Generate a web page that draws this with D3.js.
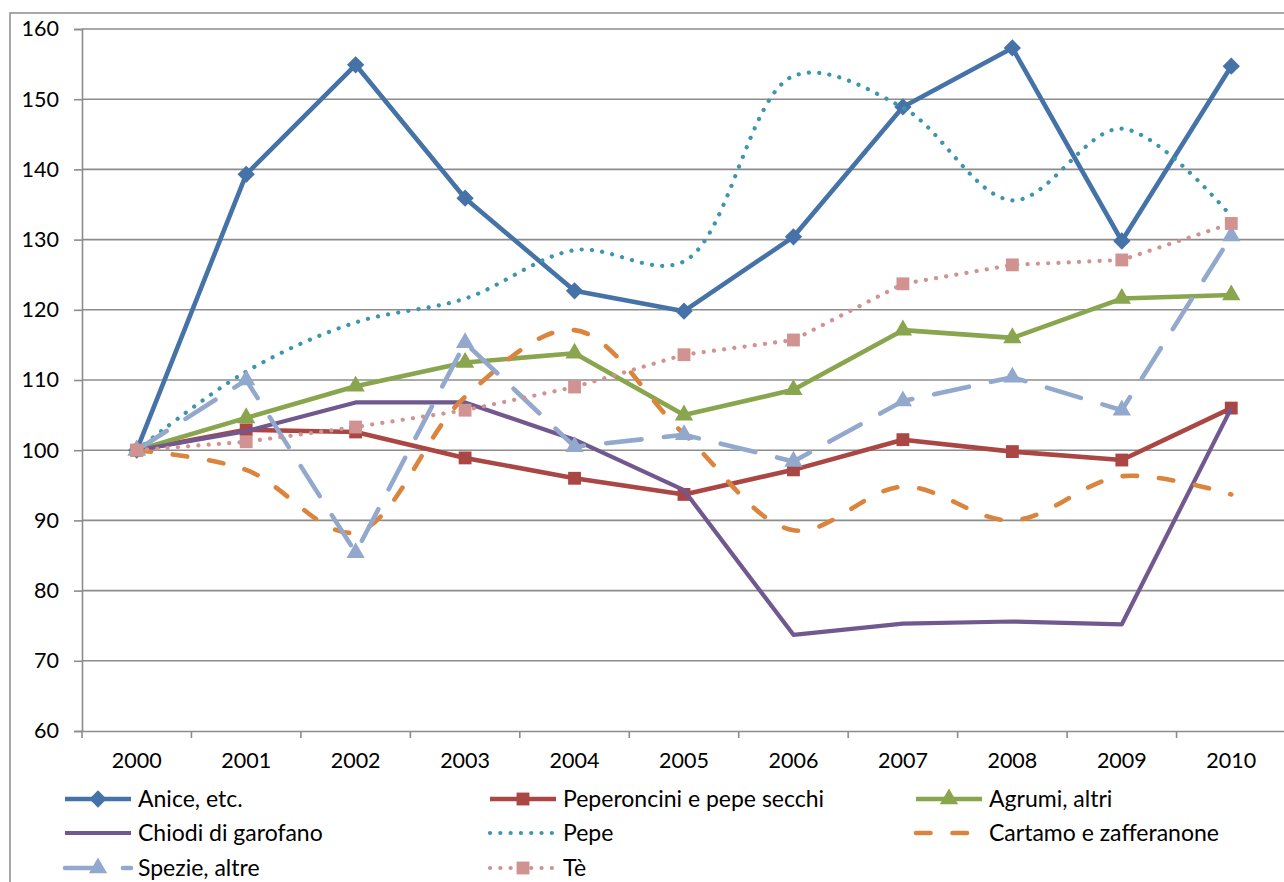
<!DOCTYPE html>
<html><head><meta charset="utf-8">
<script src="https://cdn.jsdelivr.net/npm/d3@7"></script>
<style>
html,body{margin:0;padding:0;background:#fff;overflow:hidden}
svg{display:block;font-family:Lato, "Open Sans", sans-serif}
</style></head>
<body>
<svg id="c" width="1284" height="882"></svg>
<script>
const years = ["2000","2001","2002","2003","2004","2005","2006","2007","2008","2009","2010"];
const yTicks = [60,70,80,90,100,110,120,130,140,150,160];

const anice       = [100,139.3,154.9,135.9,122.7,119.8,130.4,148.9,157.3,129.8,154.7];
const peperoncini = [100,102.9,102.6,98.9,96.0,93.7,97.2,101.5,99.8,98.6,106.0];
const agrumi      = [100,104.6,109.1,112.5,113.8,105.0,108.6,117.1,116.0,121.6,122.1];
const chiodi      = [100,102.7,106.8,106.8,101.5,94.3,73.7,75.3,75.6,75.2,106.0];
const pepe        = [100,111.2,118.2,121.6,128.5,126.9,153.3,148.8,135.6,145.8,133.3];
const cartamo     = [100,97.2,88.3,107.6,117.1,102.3,88.6,94.8,90.0,96.3,93.7];
const spezie      = [100,110.0,85.4,115.3,100.5,102.2,98.4,107.0,110.4,105.7,130.5];
const te          = [100,101.2,103.3,105.7,109.0,113.6,115.7,123.7,126.4,127.1,132.3];

const seriesNames = ["Anice, etc.","Peperoncini e pepe secchi","Agrumi, altri","Chiodi di garofano","Pepe","Cartamo e zafferanone","Spezie, altre","Tè"];
const seriesValues = [anice,peperoncini,agrumi,chiodi,pepe,cartamo,spezie,te];
const seriesColors = ["#4572A7","#AA4643","#89A54E","#71588F","#3D96AE","#DB843D","#92A8CD","#D09392"];

const styles = [
  {w:4.6, dash:null, marker:"diamond", smooth:false},
  {w:4.6, dash:null, marker:"square", smooth:false},
  {w:4.6, dash:null, marker:"triangle", smooth:false},
  {w:4.2, dash:null, marker:null, smooth:false},
  {w:4.2, dash:"0.1 10.2", marker:null, smooth:true},
  {w:4.6, dash:"14.5 22", marker:null, smooth:true},
  {w:4.6, dash:"35.5 22.5", marker:"triangle", smooth:false},
  {w:4.2, dash:"0.1 10.2", marker:"square", smooth:false}
];

const svg = d3.select("#c");
const L = 82, R = 1286, T = 29, B = 731;

const x = d3.scaleBand().domain(years).range([L, R]).padding(0);
const y = d3.scaleLinear().domain([60,160]).range([B, T]);
const cx = d => x(d) + x.bandwidth()/2;

// outer frame
svg.append("rect").attr("x",10).attr("y",13).attr("width",1320).attr("height",900)
  .attr("fill","none").attr("stroke","#8c8c8c").attr("stroke-width",1.5);

// gridlines
svg.append("g").selectAll("line").data(yTicks.filter(v=>v>60)).join("line")
  .attr("x1",L).attr("x2",R).attr("y1",d=>y(d)).attr("y2",d=>y(d))
  .attr("stroke","#8c8c8c").attr("stroke-width",1.6);

// y axis
const yAxis = svg.append("g").attr("transform",`translate(${L},0)`)
  .call(d3.axisLeft(y).tickValues(yTicks).tickSize(8).tickPadding(15));
yAxis.select(".domain").attr("stroke","#8c8c8c").attr("stroke-width",1.6);
yAxis.selectAll(".tick line").attr("stroke","#8c8c8c").attr("stroke-width",1.6);
yAxis.selectAll("text").attr("font-family","Lato").attr("font-size",21.5).attr("fill","#000");

// x axis
const xAxis = svg.append("g").attr("transform",`translate(0,${B})`)
  .call(d3.axisBottom(x).tickSize(0).tickPadding(22));
xAxis.select(".domain").attr("stroke","#8c8c8c").attr("stroke-width",1.6);
xAxis.selectAll("text").attr("font-family","Lato").attr("font-size",21.5).attr("fill","#000");
// category boundary ticks
svg.append("g").selectAll("line").data(years).join("line")
  .attr("x1",d=>x(d)).attr("x2",d=>x(d)).attr("y1",B).attr("y2",B+7)
  .attr("stroke","#8c8c8c").attr("stroke-width",1.6);

function markerPath(type){
  if(type==="diamond") return d3.symbol().type(d3.symbolSquare).size(150)();
  if(type==="square") return d3.symbol().type(d3.symbolSquare).size(165)();
  if(type==="triangle") return d3.symbol().type(d3.symbolTriangle).size(145)();
  return null;
}

const plot = svg.append("g");
seriesValues.forEach((vals,i)=>{
  const st = styles[i], col = seriesColors[i];
  const line = d3.line().x((d,j)=>cx(years[j])).y(d=>y(d))
    .curve(st.smooth ? d3.curveCatmullRom.alpha(0.5) : d3.curveLinear);
  const p = plot.append("path").datum(vals).attr("d",line)
    .attr("fill","none").attr("stroke",col).attr("stroke-width",st.w)
    .attr("stroke-linejoin","round").attr("stroke-linecap", st.dash ? "round" : "butt");
  if(st.dash) p.attr("stroke-dasharray",st.dash);
  if(st.marker){
    plot.append("g").selectAll("path").data(vals).join("path")
      .attr("d",markerPath(st.marker))
      .attr("transform",(d,j)=>`translate(${cx(years[j])},${y(d)})${st.marker==="diamond"?" rotate(45)":""}`)
      .attr("fill",col).attr("stroke","none");
  }
});

// legend
const colX = [65, 490, 916];
const rowY = [799, 833, 868];
const leg = svg.append("g");
seriesNames.forEach((name,i)=>{
  const c = i%3, r = Math.floor(i/3);
  const st = styles[i], col = seriesColors[i];
  const x0 = colX[c], y0 = rowY[r];
  const g = leg.append("g");
  const ln = g.append("line").attr("x1",x0).attr("x2",x0+66).attr("y1",y0).attr("y2",y0)
    .attr("stroke",col).attr("stroke-width",st.w).attr("stroke-linecap", st.dash ? "round":"butt");
  if(st.dash) ln.attr("stroke-dasharray",st.dash);
  if(st.marker){
    g.append("path").attr("d",markerPath(st.marker))
      .attr("transform",`translate(${x0+33},${y0})${st.marker==="diamond"?" rotate(45)":""}`)
      .attr("fill",col);
  }
  g.append("text").attr("x",x0+73).attr("y",y0).attr("dy","0.36em")
    .attr("font-family","Lato").attr("font-size",23).attr("fill","#000").text(name);
});
</script>
</body></html>
